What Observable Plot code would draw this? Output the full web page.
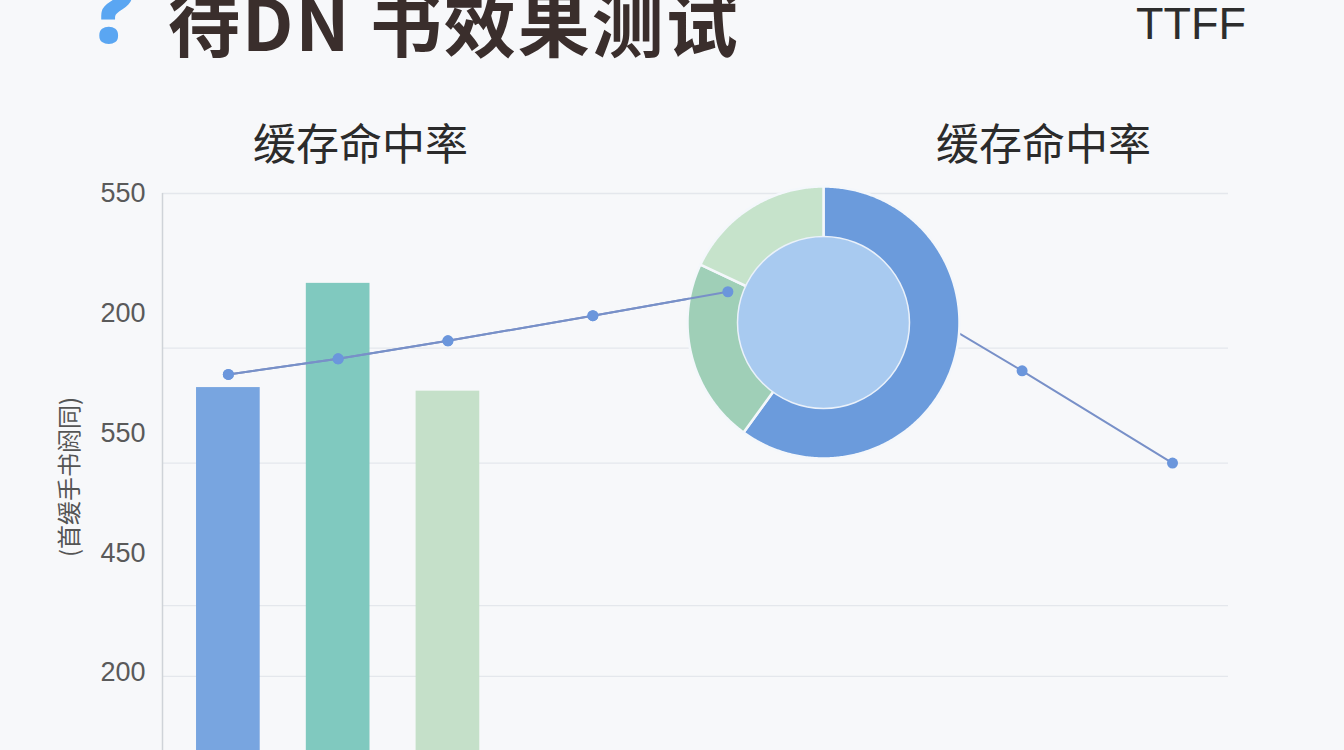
<!DOCTYPE html>
<html><head><meta charset="utf-8">
<script src="https://cdn.jsdelivr.net/npm/d3@7"></script>
<script src="https://cdn.jsdelivr.net/npm/@observablehq/plot@0.6"></script>
<style>
html,body{margin:0;padding:0;overflow:hidden;background:#f7f8fa;}
#root{position:relative;width:1344px;height:750px;overflow:hidden;font-family:"Noto Sans CJK SC","Noto Sans",sans-serif;}
.abs{position:absolute;white-space:nowrap;line-height:1;}
.layer{position:absolute;left:0;top:180px;}
</style></head><body><div id="root"></div>
<script>
// ---- data ----
const titleText = "待DN 书效果测试";
const iconText = "?";
const badgeText = "TTFF";
const leftTitle = "缓存命中率";
const rightTitle = "缓存命中率";
const yAxisLabel = "(首缓手书阏同)";
const yTickValues = [1, 2, 3, 4, 5];
const yTickLabels = ["200", "450", "550", "200", "550"];
const gridValues = [5, 3.71, 2.75, 1.56, 0.97];
const barCategories = ["A", "B", "C"];
const barX = [1, 2, 3];
const barValues = [3.38, 4.25, 3.35];
const barColors = ["#78a5e0", "#80c9bf", "#c5e0c9"];
const lineX = [1, 2, 3, 4.32, 5.55, 6.67, 8.23, 9.6];
const lineY = [3.49, 3.62, 3.77, 3.98, 4.18, 4.37, 3.52, 2.75];
const donutLabels = ["A", "B", "C"];
const donutValues = [60, 22, 18];
const donutColors = ["#6b9bdc", "#9fcfb7", "#c6e3cb"];
const donutCenterColor = "#a8caf0";

// ---- layout ----
const root = document.getElementById("root");
function addText(txt, css) {
  const d = document.createElement("div");
  d.className = "abs";
  d.textContent = txt;
  Object.assign(d.style, css);
  root.appendChild(d);
  return d;
}
addText(iconText, {left: "88px", top: "-38px", fontSize: "92px", fontWeight: "900", color: "#5aa6f2", fontFamily: "'Noto Sans','DejaVu Sans',sans-serif"});
addText(titleText, {left: "168px", top: "-16px", fontSize: "72px", fontWeight: "700", color: "#3a2e2c", letterSpacing: "2px"});
addText(badgeText, {left: "1136px", top: "1px", fontSize: "45px", color: "#2d2d2d", fontFamily: "'Liberation Sans',Arial,sans-serif"});
addText(leftTitle, {left: "253px", top: "120px", fontSize: "43px", color: "#2b2b2b"});
addText(rightTitle, {left: "936px", top: "120px", fontSize: "43px", color: "#2b2b2b"});

const barData = barCategories.map((c, i) => ({cat: c, x: barX[i], value: barValues[i], color: barColors[i]}));
const lineData = lineX.map((x, i) => ({x, y: lineY[i]}));
const barHalf = 0.29;

function mainPlot(marks) {
  return Plot.plot({
    width: 1344, height: 612,
    marginTop: 13, marginLeft: 162, marginRight: 116, marginBottom: 0,
    x: {domain: [0.4, 10.11], axis: null},
    y: {domain: [0, 5], axis: null},
    color: {type: "identity"},
    style: {background: "transparent", overflow: "visible", fontFamily: "'Liberation Sans',Arial,sans-serif"},
    marks
  });
}

const base = mainPlot([
  Plot.ruleY(gridValues, {stroke: "#e4e7ec", strokeWidth: 1.3}),
  Plot.ruleX([0.4], {stroke: "#cfd3d8", strokeWidth: 1.5}),
  Plot.axisY(yTickValues, {tickFormat: d => yTickLabels[yTickValues.indexOf(d)], tickSize: 0, tickPadding: 17, fontSize: 27, fill: "#5a5a5a", label: null}),
  Plot.text([yAxisLabel], {frameAnchor: "left", textAnchor: "middle", rotate: -90, dx: -92, dy: -16, fontSize: 24, fill: "#555", fontFamily: "'Noto Sans CJK SC',sans-serif"}),
  Plot.rectY(barData, {x1: d => d.x - barHalf, x2: d => d.x + barHalf, y1: 0, y2: "value", fill: "color"}),
  Plot.line(lineData, {x: "x", y: "y", stroke: "#7890c8", strokeWidth: 2}),
  Plot.dot(lineData, {x: "x", y: "y", r: 5.5, fill: "#6b96dc"})
]);
base.classList.add("layer");
root.appendChild(base);

// ---- donut overlay ----
const pie = d3.pie().sort(null)(donutValues);
const R = 140 / 136;
const marksDonut = [];
pie.forEach((a, i) => {
  const pts = [{x: 0, y: 0}];
  const n = Math.max(2, Math.ceil((a.endAngle - a.startAngle) / 0.01));
  for (let k = 0; k <= n; k++) {
    const t = a.startAngle + (a.endAngle - a.startAngle) * k / n;
    pts.push({x: Math.sin(t), y: Math.cos(t)});
  }
  marksDonut.push(Plot.line(pts, {x: "x", y: "y", fill: donutColors[i], stroke: "#f4f7fb", strokeWidth: 2.5, curve: "linear-closed"}));
});
marksDonut.push(Plot.dot([{x: 0, y: 0}], {x: "x", y: "y", r: 86, fill: donutCenterColor, stroke: "#eaf1fa", strokeWidth: 1.5}));
const donut = Plot.plot({
  width: 280, height: 280, margin: 0,
  x: {domain: [-R, R], axis: null},
  y: {domain: [-R, R], axis: null},
  style: {background: "transparent", overflow: "visible"},
  marks: marksDonut
});
donut.style.position = "absolute";
donut.style.left = (823 - 140) + "px";
donut.style.top = (322 - 140) + "px";
root.appendChild(donut);

// ---- line segment drawn above the ring on the left ----
const frontData = lineData.filter(d => d.x <= 5.55);
const front = mainPlot([
  Plot.line(frontData, {x: "x", y: "y", stroke: "#7890c8", strokeWidth: 2}),
  Plot.dot(frontData, {x: "x", y: "y", r: 5.5, fill: "#6b96dc"})
]);
front.classList.add("layer");
root.appendChild(front);
</script></body></html>
